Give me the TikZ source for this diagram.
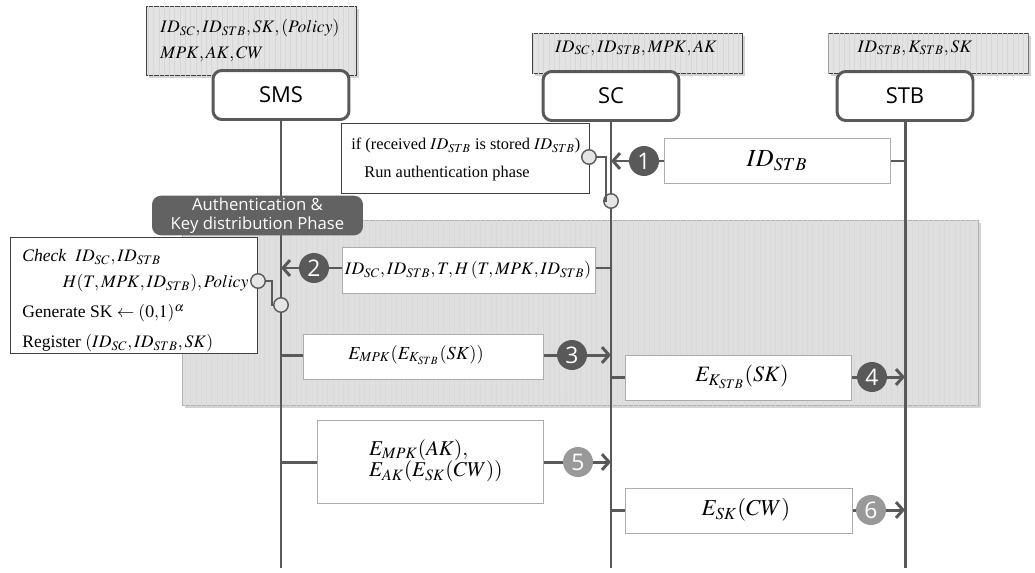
\documentclass[tikz,border=0pt]{standalone}
\usepackage{mathptmx}
\usepackage{fontspec}
\setmainfont{Liberation Serif}
\setsansfont{Open Sans}
\usepackage{tikz}
\usetikzlibrary{shadows}
\usetikzlibrary{patterns}
\usetikzlibrary{arrows.meta}
\definecolor{lineGray}{HTML}{595959}
\definecolor{tabGray}{HTML}{626262}
\tikzstyle{actor} = [rectangle, rounded corners=5pt, minimum width=2.72cm, minimum height=0.98cm, draw=lineGray, line width=1.7pt, fill=white, font=\sffamily\fontsize{12.5}{14}\selectfont]
\tikzstyle{keys} = [rectangle, anchor=north west, draw=black!75, fill=gray!22, postaction={pattern=vertical lines, pattern color=gray!32}, drop shadow={shadow xshift=1.5pt, shadow yshift=-1.5pt, opacity=0.35}]
\tikzstyle{keytext} = [anchor=north west, align=left, inner sep=0pt, font=\fontsize{10}{14}\selectfont]
\tikzstyle{msg} = [rectangle, anchor=north west, draw=gray!65, fill=white, align=left]
\tikzstyle{note} = [rectangle, anchor=north west, draw=black!75, fill=white]
\tikzstyle{num} = [circle, fill=lineGray, text=white, minimum size=0.6cm, inner sep=0pt, font=\sffamily\fontsize{13}{13}\selectfont]
\tikzstyle{numlight} = [num, fill=gray!80]
\tikzstyle{dot} = [circle, draw=lineGray, fill=gray!20, minimum size=0.29cm, inner sep=0pt, line width=0.8pt]
\tikzstyle{life} = [draw=lineGray, line width=1.7pt]
\tikzstyle{wire} = [draw=lineGray, line width=0.8pt]
\tikzstyle{arrow} = [draw=lineGray, line width=1.7pt, ->, >={Straight Barb[length=4pt,width=9pt]}]

\begin{document}
\begin{tikzpicture}[x=0.02cm, y=-0.02cm]
        \useasboundingbox (0,0) rectangle (1035,572);

        % key material of each party
        \node (smsKeys) [keys, minimum width=4.2cm, minimum height=1.38cm] at (146,6) {};
        \node (scKeys) [keys, minimum width=4.2cm, minimum height=0.8cm] at (532,33) {};
        \node (stbKeys) [keys, minimum width=4.0cm, minimum height=0.8cm] at (828,33) {};
        \node [keytext] at (160,19) {$ID_{SC}, ID_{STB}, SK, (Policy)$\\[1pt]$MPK, AK, CW$};
        \node [keytext, anchor=north] at (636,40) {$ID_{SC}, ID_{STB}, MPK, AK$};
        \node [keytext, anchor=north] at (915,40) {$ID_{STB}, K_{STB}, SK$};

        % phase area
        \node (phase) [rectangle, anchor=north west, minimum width=15.92cm, minimum height=3.7cm, draw=gray!60, fill=gray!25, postaction={pattern=vertical lines, pattern color=gray!30}, drop shadow={shadow xshift=1.5pt, shadow yshift=-1.5pt, opacity=0.35}] at (182,220) {};

        % parties
        \node (sms) [actor] at (281,95) {SMS};
        \node (sc) [actor] at (611,96) {SC};
        \node (stb) [actor] at (905,96) {STB};
        \coordinate (smsEnd) at (281,568);
        \coordinate (scEnd) at (611,568);
        \coordinate (stbEnd) at (905,568);
        \draw [life] (sms) -- (smsEnd);
        \draw [life] (sc) -- (scEnd);
        \draw [life] (stb) -- (stbEnd);

        \node (phaseTab) [rectangle, rounded corners=5pt, fill=tabGray, text=white, align=center, minimum width=4.22cm, minimum height=0.78cm, inner sep=1pt, font=\sffamily\fontsize{9.5}{11}\selectfont] at (257.5,215.5) {Authentication \&\\Key distribution Phase};

        % step 1
        \node (checkId) [note, minimum width=4.96cm, minimum height=1.4cm] at (341,123) {};
        \node [keytext, font=\fontsize{9.3}{13}\selectfont] at (351,138) {if (received $ID_{STB}$ is stored $ID_{STB}$)\\[3pt]\hspace{0.8em}Run authentication phase};
        \node (dotA) [dot] at (589,157) {};
        \node (dotB) [dot] at (611,201) {};
        \draw [wire] (dotA.east) -- ++(9,0) |- (dotB.west);
        \node (msgOne) [msg, minimum width=4.52cm, minimum height=0.9cm] at (664,138) {};
        \node at (777,161) {\fontsize{14}{16}\selectfont$ID_{STB}$};
        \coordinate (stbA) at (905,161);
        \coordinate (scA) at (611,161);
        \node (numOne) [num] at (644,161) {1};
        \draw [life] (stbA) -- (stbA -| msgOne.east);
        \draw [life] (msgOne.west |- stbA) -- (numOne);
        \draw [arrow] (numOne) -- (scA);

        % step 2
        \node (checkSms) [note, minimum width=4.94cm, minimum height=2.32cm] at (10,237) {};
        \node [keytext, font=\fontsize{10}{13}\selectfont] at (22,249) {\textit{Check}\ \ $ID_{SC}, ID_{STB}$\\[2pt]\hspace{2.3em}$H(T, MPK, ID_{STB}), Policy$\\[4pt]Generate SK $\leftarrow (0{,}1)^{\alpha}$\\[4pt]Register\ $(ID_{SC}, ID_{STB}, SK)$};
        \node (dotC) [dot] at (258,281) {};
        \node (dotD) [dot] at (281,305) {};
        \draw [wire] (dotC.east) -- ++(6,0) |- (dotD.west);
        \node (msgTwo) [msg, minimum width=5.06cm, minimum height=0.92cm] at (342,247) {};
        \node at (468,270) {\fontsize{10}{12}\selectfont$ID_{SC}, ID_{STB}, T, H\,(T, MPK, ID_{STB})$};
        \coordinate (scB) at (611,268);
        \coordinate (smsB) at (281,268);
        \node (numTwo) [num] at (314,268) {2};
        \draw [life] (scB) -- (scB -| msgTwo.east);
        \draw [life] (msgTwo.west |- scB) -- (numTwo);
        \draw [arrow] (numTwo) -- (smsB);

        % step 3
        \node (msgThree) [msg, minimum width=4.8cm, minimum height=0.9cm] at (303,334) {};
        \node at (416,355) {\fontsize{10.5}{13}\selectfont$E_{MPK}(E_{K_{STB}}(SK))$};
        \coordinate (smsC) at (281,355);
        \coordinate (scC) at (611,355);
        \node (numThree) [num] at (572,355) {3};
        \draw [life] (smsC) -- (smsC -| msgThree.west);
        \draw [life] (msgThree.east |- smsC) -- (numThree);
        \draw [arrow] (numThree) -- (scC);

        % step 4
        \node (msgFour) [msg, minimum width=4.52cm, minimum height=0.9cm] at (625,355) {};
        \node at (742,377) {\fontsize{12.5}{14}\selectfont$E_{K_{STB}}(SK)$};
        \coordinate (scD) at (611,377);
        \coordinate (stbD) at (905,377);
        \node (numFour) [num] at (872,377) {4};
        \draw [life] (scD) -- (scD -| msgFour.west);
        \draw [life] (msgFour.east |- scD) -- (numFour);
        \draw [arrow] (numFour) -- (stbD);

        % step 5
        \node (msgFive) [msg, minimum width=4.52cm, minimum height=1.66cm] at (317,420) {};
        \node [anchor=west, align=left] at (363,461) {\fontsize{12}{18}\selectfont$E_{MPK}(AK),$\\\fontsize{12}{18}\selectfont$E_{AK}(E_{SK}(CW))$};
        \coordinate (smsE) at (281,462);
        \coordinate (scE) at (611,462);
        \node (numFive) [numlight] at (578,462) {5};
        \draw [life] (smsE) -- (smsE -| msgFive.west);
        \draw [life] (msgFive.east |- smsE) -- (numFive);
        \draw [arrow] (numFive) -- (scE);

        % step 6
        \node (msgSix) [msg, minimum width=4.54cm, minimum height=0.9cm] at (625,488) {};
        \node at (746,510) {\fontsize{13}{16}\selectfont$E_{SK}(CW)$};
        \coordinate (scF) at (611,510);
        \coordinate (stbF) at (905,510);
        \node (numSix) [numlight] at (871,510) {6};
        \draw [life] (scF) -- (scF -| msgSix.west);
        \draw [life] (msgSix.east |- scF) -- (numSix);
        \draw [arrow] (numSix) -- (stbF);
    \end{tikzpicture}
\end{document}
